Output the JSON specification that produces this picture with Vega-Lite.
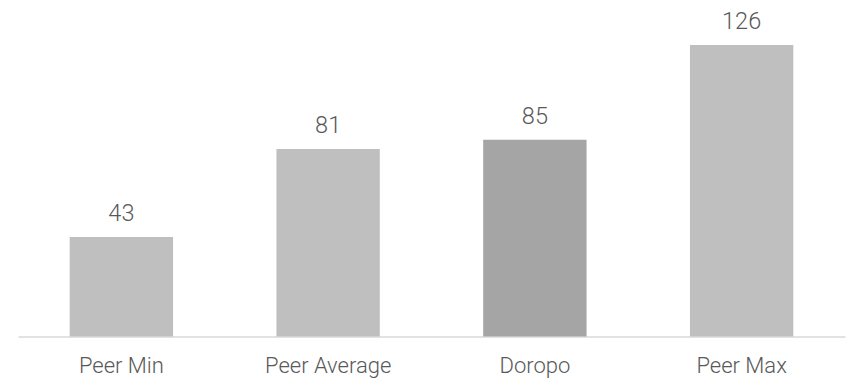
{
  "$schema": "https://vega.github.io/schema/vega-lite/v6.json",
  "autosize": {"type": "none"},
  "width": 827,
  "height": 291.5,
  "padding": {"left": 18, "top": 45, "right": 3, "bottom": 44.5},
  "background": "white",
  "config": {
    "view": {"stroke": null},
    "font": "Roboto"
  },
  "data": {
    "values": [
      {"category": "Peer Min", "value": 43, "highlight": "peer"},
      {"category": "Peer Average", "value": 81, "highlight": "peer"},
      {"category": "Doropo", "value": 85, "highlight": "company"},
      {"category": "Peer Max", "value": 126, "highlight": "peer"}
    ]
  },
  "encoding": {
    "x": {
      "field": "category",
      "type": "nominal",
      "sort": null,
      "scale": {"paddingInner": 0.5, "paddingOuter": 0.25},
      "axis": {
        "title": null,
        "labelAngle": 0,
        "ticks": false,
        "domainColor": "#D9D9D9",
        "domainWidth": 1.5,
        "labelFont": "Roboto",
        "labelFontWeight": 300,
        "labelFontSize": 22,
        "labelColor": "#595959",
        "labelPadding": 19
      }
    },
    "y": {
      "field": "value",
      "type": "quantitative",
      "scale": {"domain": [0, 126], "nice": false, "zero": true},
      "axis": null
    }
  },
  "layer": [
    {
      "mark": {"type": "bar"},
      "encoding": {
        "color": {
          "field": "highlight",
          "type": "nominal",
          "scale": {"domain": ["peer", "company"], "range": ["#BFBFBF", "#A5A5A5"]},
          "legend": null
        }
      }
    },
    {
      "mark": {
        "type": "text",
        "baseline": "alphabetic",
        "dy": -16,
        "font": "Roboto",
        "fontWeight": 300,
        "fontSize": 23.5,
        "color": "#595959"
      },
      "encoding": {
        "text": {"field": "value", "type": "quantitative"}
      }
    }
  ]
}
